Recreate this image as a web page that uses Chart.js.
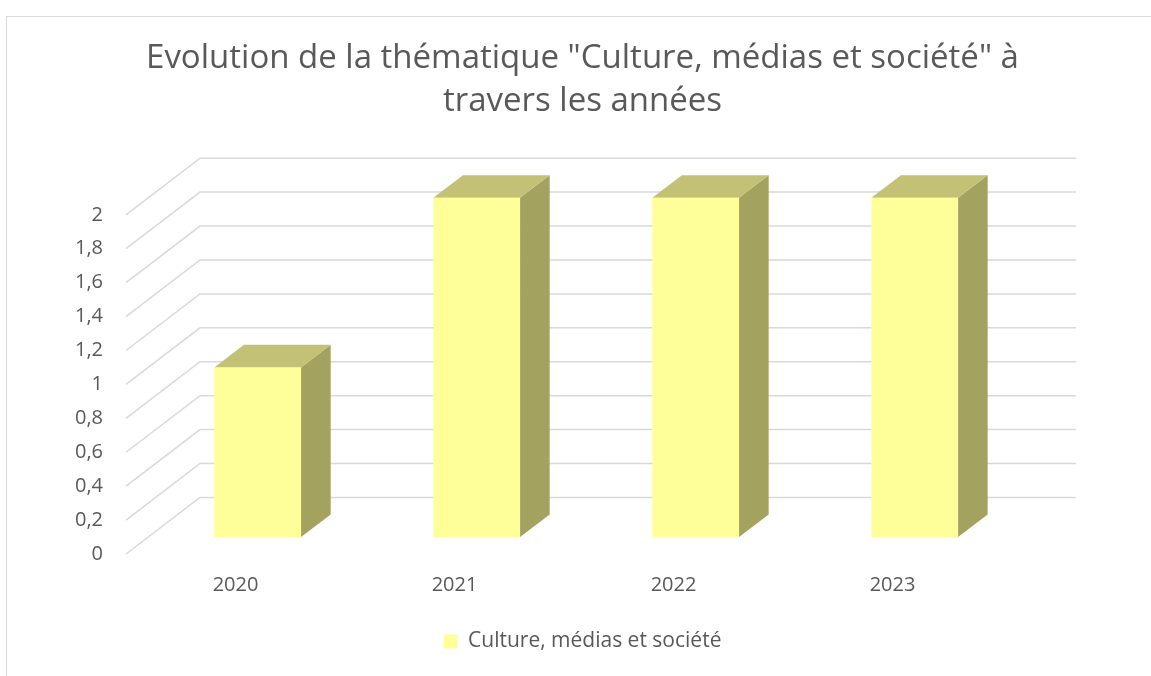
<!DOCTYPE html>
<html lang="fr">
  <head>
    <meta charset="UTF-8" />
    <title>Culture, médias et société</title>
    <script src="https://cdn.jsdelivr.net/npm/chart.js@4.4.0/dist/chart.umd.min.js"></script>
    <style>
      body { margin: 0; background: #fff; overflow: hidden; }
      .frame {
        position: absolute;
        left: 6px;
        top: 16px;
        width: 1200px;
        height: 700px;
        border: 1.5px solid #d9d9d9;
        pointer-events: none;
      }
      #myChart { position: absolute; left: 0; top: 0; }
    </style>
  </head>
  <body>
    <canvas id="myChart" width="1151" height="676"></canvas>
    <div class="frame"></div>
    <script>
      // data
      let years = ["2020", "2021", "2022", "2023"];
      let counts = [1, 2, 2, 2];
      let seriesName = "Culture, médias et société";
      let titleLines = [
        'Evolution de la thématique "Culture, médias et société" à',
        "travers les années",
      ];

      let textColor = "#595959";
      let gridColor = "#d9d9d9";
      let frontColor = "#FFFF99";
      let topColor = "#C2C175";
      let sideColor = "#A3A25E";

      Chart.defaults.font.family = "'Open Sans', sans-serif";
      Chart.defaults.color = textColor;

      // depth of the 3d floor, in px
      let depth = { x: 74, y: -56.6 };

      let fakeBars = {
        id: "fakeBars",
        beforeDatasetsDraw(chart) {
          let ctx = chart.ctx;
          let area = chart.chartArea;
          let yScale = chart.scales.y;

          // walls
          ctx.save();
          ctx.strokeStyle = gridColor;
          ctx.lineWidth = 1.5;
          yScale.ticks.forEach((t) => {
            let y = yScale.getPixelForValue(t.value);
            ctx.beginPath();
            ctx.moveTo(area.left, y);
            ctx.lineTo(area.left + depth.x, y + depth.y);
            ctx.lineTo(area.right + depth.x, y + depth.y);
            ctx.stroke();
          });

          // boxes
          let ox = depth.x * 0.3;
          let oy = depth.y * 0.3;
          let dx = depth.x * 0.4;
          let dy = depth.y * 0.4;
          let meta = chart.getDatasetMeta(0);
          meta.data.forEach((bar) => {
            let p = bar.getProps(["x", "y", "base", "width"], true);
            let x0 = p.x - p.width / 2 + ox;
            let x1 = p.x + p.width / 2 + ox;
            let yTop = p.y + oy;
            let yBot = p.base + oy;

            ctx.fillStyle = sideColor;
            ctx.beginPath();
            ctx.moveTo(x1, yTop);
            ctx.lineTo(x1 + dx, yTop + dy);
            ctx.lineTo(x1 + dx, yBot + dy);
            ctx.lineTo(x1, yBot);
            ctx.closePath();
            ctx.fill();

            ctx.fillStyle = topColor;
            ctx.beginPath();
            ctx.moveTo(x0, yTop);
            ctx.lineTo(x0 + dx, yTop + dy);
            ctx.lineTo(x1 + dx, yTop + dy);
            ctx.lineTo(x1, yTop);
            ctx.closePath();
            ctx.fill();

            ctx.fillStyle = frontColor;
            ctx.fillRect(x0, yTop, x1 - x0, yBot - yTop);
          });
          ctx.restore();
          return false;
        },
      };

      let chart = new Chart("myChart", {
        type: "bar",
        data: {
          labels: years,
          datasets: [
            {
              label: seriesName,
              data: counts,
              backgroundColor: frontColor,
              borderWidth: 0,
              barPercentage: 0.396,
              categoryPercentage: 1,
            },
          ],
        },
        options: {
          responsive: false,
          animation: false,
          layout: { padding: { left: 14, right: 0, top: 0, bottom: 14 } },
          scales: {
            x: {
              grid: { display: false, drawTicks: false },
              border: { display: false },
              ticks: { color: textColor, padding: 19, font: { size: 20 } },
              afterFit(scale) {
                scale.height = 67;
              },
            },
            y: {
              min: 0,
              max: 2,
              grid: { display: false, drawTicks: false },
              border: { display: false },
              ticks: {
                stepSize: 0.2,
                color: textColor,
                padding: 23,
                font: { size: 20 },
                callback: (v) => String(Math.round(v * 10) / 10).replace(".", ","),
              },
              afterFit(scale) {
                scale.width = 112;
              },
            },
            yRight: {
              position: "right",
              grid: { display: false, drawTicks: false },
              border: { display: false },
              ticks: { display: false },
              afterFit(scale) {
                scale.width = 149;
              },
            },
          },
          plugins: {
            title: {
              display: true,
              text: titleLines,
              color: textColor,
              font: { size: 33, weight: "normal", lineHeight: 1.3 },
              padding: { top: 37, bottom: 92 },
            },
            legend: {
              position: "bottom",
              labels: {
                color: textColor,
                boxWidth: 14,
                boxHeight: 14,
                font: { size: 21 },
              },
            },
            tooltip: { enabled: false },
          },
        },
        plugins: [fakeBars],
      });
    </script>
  </body>
</html>
